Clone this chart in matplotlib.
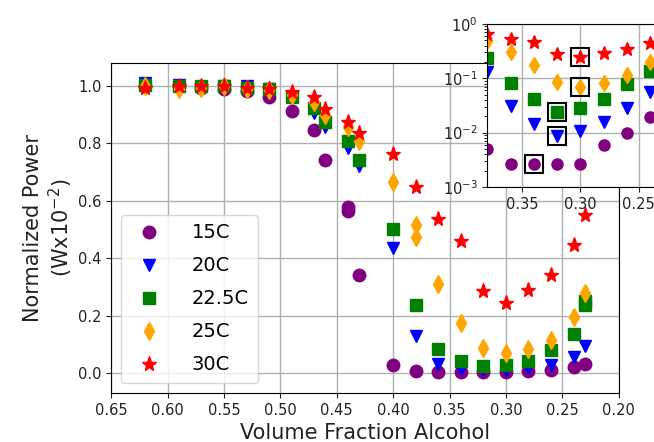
import matplotlib
matplotlib.use("Agg")
import matplotlib.pyplot as plt
from matplotlib.ticker import FormatStrFormatter

# ---- data ----
x_15 = [0.62, 0.59, 0.57, 0.55, 0.53, 0.51, 0.49, 0.47, 0.46, 0.44, 0.44, 0.43, 0.40, 0.38,
        0.36, 0.34, 0.32, 0.30, 0.28, 0.26, 0.24, 0.23]
y_15 = [1.00, 1.00, 0.995, 0.99, 0.982, 0.961, 0.915, 0.848, 0.744, 0.578, 0.565, 0.341, 0.028, 0.0049,
        0.0027, 0.0027, 0.0027, 0.0027, 0.0058, 0.0100, 0.019, 0.031]

x_20 = [0.62, 0.59, 0.57, 0.55, 0.53, 0.51, 0.49, 0.47, 0.46, 0.44, 0.43, 0.40, 0.38,
        0.36, 0.34, 0.32, 0.30, 0.28, 0.26, 0.24, 0.23]
y_20 = [1.01, 1.005, 0.985, 1.00, 1.00, 0.99, 0.96, 0.905, 0.857, 0.786, 0.723, 0.434, 0.128,
        0.031, 0.0143, 0.0087, 0.0107, 0.0159, 0.028, 0.055, 0.092]

x_225 = [0.62, 0.59, 0.57, 0.55, 0.53, 0.51, 0.49, 0.47, 0.46, 0.44, 0.43, 0.40, 0.38,
         0.36, 0.34, 0.32, 0.30, 0.28, 0.26, 0.24, 0.23, 0.23]
y_225 = [1.005, 1.00, 1.00, 1.00, 0.995, 0.99, 0.963, 0.923, 0.874, 0.81, 0.743, 0.503, 0.237,
         0.082, 0.042, 0.0243, 0.028, 0.042, 0.080, 0.135, 0.25, 0.236]

x_25 = [0.62, 0.59, 0.57, 0.55, 0.53, 0.51, 0.49, 0.47, 0.46, 0.44, 0.43, 0.40, 0.38, 0.38,
        0.36, 0.34, 0.32, 0.30, 0.28, 0.26, 0.24, 0.23]
y_25 = [1.00, 0.99, 0.995, 1.00, 0.99, 0.985, 0.97, 0.944, 0.90, 0.857, 0.81, 0.665, 0.515, 0.475,
        0.31, 0.175, 0.087, 0.069, 0.083, 0.115, 0.195, 0.28]

x_30 = [0.62, 0.59, 0.57, 0.55, 0.53, 0.51, 0.49, 0.47, 0.46, 0.44, 0.43, 0.40, 0.38,
        0.36, 0.34, 0.32, 0.30, 0.28, 0.26, 0.24, 0.23]
y_30 = [0.995, 1.00, 1.00, 1.00, 0.995, 0.99, 0.978, 0.963, 0.921, 0.874, 0.836, 0.764, 0.648,
        0.535, 0.46, 0.285, 0.245, 0.29, 0.343, 0.445, 0.55]

labels = ["15C", "20C", "22.5C", "25C", "30C"]
colors = ["purple", "blue", "green", "orange", "red"]
markers = ["o", "v", "s", "d", "*"]

box_x = [0.34, 0.32, 0.32, 0.30, 0.30]
box_y = [0.0027, 0.0087, 0.0243, 0.068, 0.245]

main_xticks = [0.65, 0.60, 0.55, 0.50, 0.45, 0.40, 0.35, 0.30, 0.25, 0.20]
main_yticks = [0.0, 0.2, 0.4, 0.6, 0.8, 1.0]
inset_xticks = [0.35, 0.30, 0.25]

series = [(x_15, y_15), (x_20, y_20), (x_225, y_225), (x_25, y_25), (x_30, y_30)]

# ---- figure ----
fig = plt.figure(figsize=(6.54, 4.42), dpi=100)
ax = fig.add_axes([0.170, 0.111, 0.776, 0.746])

for (xs, ys), lab, c, m in zip(series, labels, colors, markers):
    ms = 11 if m == "*" else 9
    ax.plot(xs, ys, linestyle="none", marker=m, color=c, markersize=ms, label=lab)

ax.set_xlim(0.65, 0.20)
ax.set_ylim(-0.07, 1.08)
ax.set_xticks(main_xticks)
ax.set_yticks(main_yticks)
ax.xaxis.set_major_formatter(FormatStrFormatter("%.2f"))
ax.yaxis.set_major_formatter(FormatStrFormatter("%.1f"))
ax.tick_params(labelsize=10.5, colors="#222222")
ax.grid(True, color="#b0b0b0", linewidth=1.0)
ax.set_axisbelow(True)
ax.set_xlabel("Volume Fraction Alcohol", fontsize=15, color="#222222")
ax.set_ylabel("Normalized Power\n(Wx10$^{-2}$)", fontsize=15, color="#222222", labelpad=2)
ax.legend(loc="lower left", fontsize=14, labelspacing=0.72, handletextpad=1.2,
          borderpad=0.45)

# ---- inset ----
ins = fig.add_axes([0.745, 0.577, 0.285, 0.369])
ins.set_facecolor("white")
for (xs, ys), lab, c, m in zip(series, labels, colors, markers):
    ms = 10 if m == "*" else 8
    ins.plot(xs, ys, linestyle="none", marker=m, color=c, markersize=ms)
ins.plot(box_x, box_y, linestyle="none", marker="s", markersize=13,
         markerfacecolor="none", markeredgecolor="black", markeredgewidth=1.5)
ins.set_yscale("log")
ins.set_xlim(0.38, 0.22)
ins.set_ylim(1e-3, 1)
ins.set_xticks(inset_xticks)
ins.xaxis.set_major_formatter(FormatStrFormatter("%.2f"))
ins.tick_params(labelsize=10.5, colors="#222222")
ins.grid(True, which="major", color="#b0b0b0", linewidth=1.0)
ins.set_axisbelow(True)

fig.savefig("out.png", dpi=100)
